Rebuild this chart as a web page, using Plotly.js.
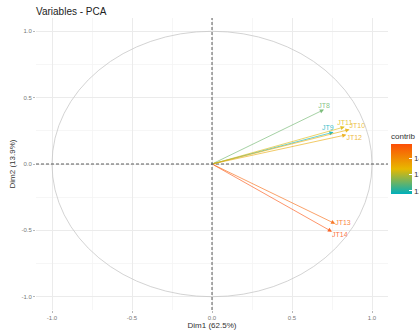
<!DOCTYPE html>
<html>
<head>
<meta charset="utf-8">
<script src="https://cdn.plot.ly/plotly-3.0.1.min.js"></script>
<style>html,body{margin:0;padding:0;overflow:hidden;background:#fff;width:419px;height:330px;}#chart{width:470px;height:330px;}</style>
</head>
<body>
<div id="chart"></div>
<script>
// Variable names, coordinates on Dim1/Dim2 and contributions
const variables = ["JT8", "JT9", "JT10", "JT11", "JT12", "JT13", "JT14"];
const dim1 = [0.70, 0.76, 0.86, 0.83, 0.84, 0.77, 0.75];
const dim2 = [0.41, 0.24, 0.26, 0.28, 0.22, -0.45, -0.51];
const contrib = [12.5, 11.8, 13.5, 13.3, 13.6, 14.6, 14.9];
const labelPos = ["top center", "top left", "top right", "top center", "bottom right", "middle right", "bottom right"];
const tickVals = [-1, -0.5, 0, 0.5, 1];
const tickText = ["-1.0", "-0.5", "0.0", "0.5", "1.0"];

const scale = [[0, "#00AFBB"], [0.5, "#E7B800"], [1, "#FC4E07"]];
const cmin = 11.8, cmax = 14.9;
function hex(h){return [parseInt(h.slice(1,3),16),parseInt(h.slice(3,5),16),parseInt(h.slice(5,7),16)];}
function colorFor(v, alpha){
  const t = (v - cmin) / (cmax - cmin);
  for (let i = 0; i < scale.length - 1; i++) {
    const [t0, c0] = scale[i], [t1, c1] = scale[i+1];
    if (t <= t1 || i === scale.length - 2) {
      const f = Math.max(0, Math.min(1, (t - t0) / (t1 - t0)));
      const a = hex(c0), b = hex(c1);
      return "rgba(" + a.map((x, k) => Math.round(x + (b[k] - x) * f)).join(",") + "," + alpha + ")";
    }
  }
}
const cols = contrib.map(v => colorFor(v, 0.85));
const textCols = contrib.map(v => colorFor(v, 0.8));

const annotations = variables.map((v, i) => ({
  x: dim1[i], y: dim2[i], ax: 0, ay: 0, xref: "x", yref: "y", axref: "x", ayref: "y",
  text: "", showarrow: true, arrowhead: 2, arrowsize: 1.2, arrowwidth: 0.7, arrowcolor: cols[i]
}));

const traces = [
  {
    x: dim1, y: dim2, mode: "markers", hoverinfo: "skip", showlegend: false,
    marker: {size: 0.1, opacity: 0, color: contrib, colorscale: scale, cmin: cmin, cmax: cmax,
      colorbar: {x: 1.0085, xanchor: "left", y: (310 - 130) / 292, yanchor: "top", len: 64, lenmode: "pixels",
        thickness: 21, outlinewidth: 0, xpad: 0, ypad: 0, tickvals: [12, 13, 14], ticks: "inside", ticklen: 3, tickcolor: "#fff",
        tickfont: {size: 8, color: "#333"},
        title: {text: "contrib", side: "top", font: {size: 8, color: "#333"}}}}
  },
  {
    x: dim1, y: dim2, mode: "text", text: variables, textposition: labelPos, hoverinfo: "skip", showlegend: false,
    textfont: {size: 7, color: textCols, family: "Liberation Sans, Arial, sans-serif"}
  }
];

const axisCommon = {
  range: [-1.1, 1.1], tickvals: tickVals, ticktext: tickText, zeroline: false,
  showgrid: true, gridcolor: "#EBEBEB", gridwidth: 1,
  minor: {dtick: 0.25, tick0: 0, showgrid: true, gridcolor: "#F4F4F4", gridwidth: 0.8},
  ticks: "outside", ticklen: 2, tickcolor: "#999", tickwidth: 0.7,
  tickfont: {size: 6, color: "#777"}, showline: false, fixedrange: true, automargin: false
};

const layout = {
  width: 470, height: 330,
  margin: {l: 36, r: 82, t: 18, b: 20},
  paper_bgcolor: "#fff", plot_bgcolor: "#fff",
  font: {family: "Liberation Sans, Arial, sans-serif"},
  title: {text: "Variables - PCA", x: 36/470, xanchor: "left", y: 0.975, yanchor: "top", font: {size: 10, color: "#222"}},
  xaxis: Object.assign({}, axisCommon, {title: {text: "Dim1 (62.5%)", font: {size: 8, color: "#333"}, standoff: 2}}),
  yaxis: Object.assign({}, axisCommon, {title: {text: "Dim2 (13.9%)", font: {size: 8, color: "#333"}, standoff: 4}}),
  shapes: [
    {type: "circle", xref: "x", yref: "y", x0: -1, x1: 1, y0: -1, y1: 1, line: {color: "#C8C8C8", width: 0.8}},
    {type: "line", xref: "paper", yref: "y", x0: 0, x1: 1, y0: 0, y1: 0, line: {color: "#333", width: 0.8, dash: "3px,2px"}},
    {type: "line", xref: "x", yref: "paper", x0: 0, x1: 0, y0: 0, y1: 1, line: {color: "#333", width: 0.8, dash: "3px,2px"}}
  ],
  annotations: annotations
};

Plotly.newPlot("chart", traces, layout, {displayModeBar: false, staticPlot: true});
</script>
</body>
</html>
